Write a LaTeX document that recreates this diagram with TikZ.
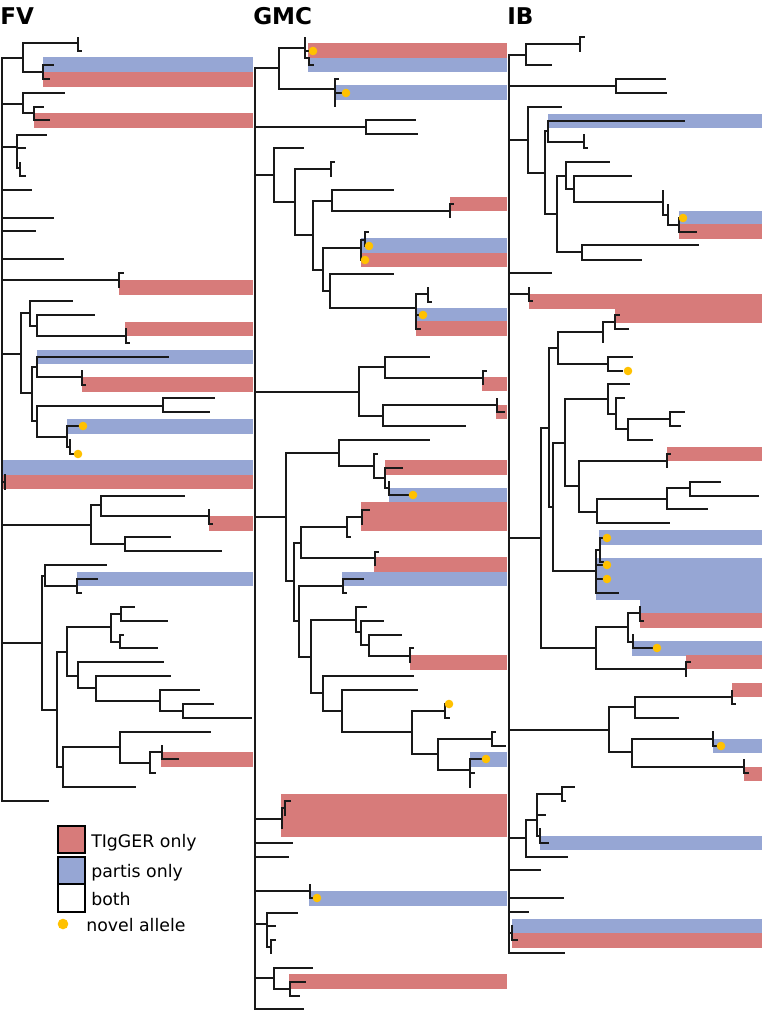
\documentclass[tikz,border=0pt]{standalone}
\usepackage{fontspec}
\setmainfont{DejaVu Sans}
\definecolor{bandr}{RGB}{215,123,122}
\definecolor{bandb}{RGB}{150,166,212}
\definecolor{novel}{RGB}{255,193,0}
\definecolor{treeline}{RGB}{25,25,25}
\tikzset{
  tl/.style={draw=treeline, line width=1.1pt, line cap=rect},
  ttl/.style={anchor=base west, inner sep=0pt, font=\fontsize{17.3}{20}\selectfont\bfseries},
  lgt/.style={anchor=base west, inner sep=0pt, font=\fontsize{13}{15}\selectfont},
  lgbox/.style={draw=black, line width=0.9pt}
}
\newcommand\HB[3]{\draw[tl] (#2,#1) -- (#3,#1);}
\newcommand\VB[3]{\draw[tl] (#1,#2) -- (#1,#3);}
\newcommand\RB[4]{\fill[bandr] (#1,#3) rectangle (#2,#4);}
\newcommand\BB[4]{\fill[bandb] (#1,#3) rectangle (#2,#4);}
\newcommand\DT[2]{\fill[novel] (#1,#2) circle[radius=4.3];}
\begin{document}
\begin{tikzpicture}[x=0.75pt, y=-0.75pt]
\useasboundingbox (0,0) rectangle (762,1018);
\fill[white] (0,0) rectangle (762,1018);
% ================= titles
\node[ttl] (tFV) at (0,24) {FV};
\node[ttl] (tGMC) at (253,24) {GMC};
\node[ttl] (tIB) at (507,24) {IB};
% ================= bands FV
\BB{43}{253}{57}{72}
\RB{43}{253}{72}{87}
\RB{34}{253}{113}{128}
\RB{119}{253}{280}{295}
\RB{125}{253}{322}{336}
\BB{37}{253}{350}{364}
\RB{82}{253}{377}{392}
\BB{67}{253}{419}{434}
\BB{2}{253}{460}{475}
\RB{2}{253}{475}{489}
\RB{209}{253}{516}{531}
\BB{77}{253}{572}{586}
\RB{161}{253}{752}{767}
% ================= bands GMC
\RB{308}{507}{43}{58}
\BB{308}{507}{58}{72}
\BB{335}{507}{85}{100}
\RB{450}{507}{197}{211}
\BB{361}{507}{238}{253}
\RB{361}{507}{253}{267}
\BB{416}{507}{308}{321}
\RB{416}{507}{321}{336}
\RB{482}{507}{377}{391}
\RB{496}{507}{405}{419}
\RB{385}{507}{460}{475}
\BB{389}{507}{488}{503}
\RB{361}{507}{502}{531}
\RB{374}{507}{557}{572}
\BB{342}{507}{572}{586}
\RB{410}{507}{655}{670}
\BB{470}{507}{752}{767}
\RB{281}{507}{794}{837}
\BB{309}{507}{891}{906}
\RB{289}{507}{974}{989}
% ================= bands IB
\BB{548}{762}{114}{128}
\BB{679}{762}{211}{224}
\RB{679}{762}{224}{239}
\RB{529}{762}{294}{309}
\RB{615}{762}{308}{323}
\RB{667}{762}{447}{461}
\BB{599}{762}{530}{545}
\BB{596}{762}{558}{600}
\BB{640}{762}{599}{613}
\RB{640}{762}{613}{628}
\BB{632}{762}{641}{656}
\RB{686}{762}{655}{669}
\RB{732}{762}{683}{697}
\BB{713}{762}{739}{753}
\RB{744}{762}{767}{781}
\BB{540}{762}{836}{850}
\BB{512}{762}{919}{933}
\RB{512}{762}{933}{948}
% ================= tree FV
\VB{2}{58}{801}
\HB{58}{2}{23} \VB{23}{43}{72}
\HB{43}{23}{78} \VB{78}{38}{51} \HB{51}{78}{81}
\HB{72}{23}{43} \VB{43}{65}{79} \HB{65}{43}{53} \HB{79}{43}{49}
\HB{104}{2}{23} \VB{23}{93}{113} \HB{93}{23}{64}
\HB{113}{23}{34} \VB{34}{107}{120} \HB{107}{34}{43} \HB{120}{34}{49}
\HB{147}{2}{17} \VB{17}{135}{168} \HB{135}{17}{46} \HB{148}{17}{25}
\HB{168}{17}{20} \VB{20}{163}{176} \HB{176}{20}{25}
\HB{190}{2}{31}
\HB{218}{2}{53}
\HB{231}{2}{35}
\HB{259}{2}{63}
\HB{280}{2}{119} \VB{119}{273}{287} \HB{273}{119}{123}
\HB{354}{2}{21} \VB{21}{313}{393}
\HB{313}{21}{30} \VB{30}{301}{326} \HB{301}{30}{72}
\HB{326}{30}{37} \VB{37}{315}{336} \HB{315}{37}{94}
\HB{336}{37}{126} \VB{126}{329}{343} \HB{343}{126}{129}
\HB{393}{21}{32} \VB{32}{367}{421}
\HB{367}{32}{37} \VB{37}{357}{377} \HB{357}{37}{168}
\HB{377}{37}{82} \VB{82}{371}{385} \HB{385}{82}{85}
\HB{421}{32}{37} \VB{37}{406}{437}
\HB{406}{37}{163} \VB{163}{398}{412} \HB{398}{163}{214} \HB{412}{163}{209}
\HB{437}{37}{67} \VB{67}{426}{447} \HB{426}{67}{83}
\HB{447}{67}{70} \VB{70}{440}{454} \HB{454}{70}{78}
\HB{482}{2}{5} \VB{5}{475}{489}
\HB{525}{2}{91} \VB{91}{505}{544}
\HB{505}{91}{101} \VB{101}{496}{516} \HB{496}{101}{184}
\HB{516}{101}{209} \VB{209}{510}{524} \HB{524}{209}{212}
\HB{544}{91}{125} \VB{125}{537}{551} \HB{537}{125}{170} \HB{551}{125}{221}
\HB{643}{2}{42} \VB{42}{576}{710}
\HB{576}{42}{45} \VB{45}{565}{586} \HB{565}{45}{106}
\HB{586}{45}{77} \VB{77}{579}{593} \HB{579}{77}{97} \HB{593}{77}{81}
\HB{710}{42}{57} \VB{57}{652}{767}
\HB{652}{57}{67} \VB{67}{627}{676}
\HB{627}{67}{111} \VB{111}{614}{642}
\HB{614}{111}{121} \VB{121}{607}{621} \HB{607}{121}{134} \HB{621}{121}{167}
\HB{642}{111}{120} \VB{120}{635}{648} \HB{635}{120}{123} \HB{648}{120}{157}
\HB{676}{67}{78} \VB{78}{662}{688} \HB{662}{78}{163}
\HB{688}{78}{96} \VB{96}{676}{701} \HB{676}{96}{170}
\HB{701}{96}{160} \VB{160}{690}{711} \HB{690}{160}{199}
\HB{711}{160}{183} \VB{183}{704}{718} \HB{704}{183}{213} \HB{718}{183}{251}
\HB{767}{57}{63} \VB{63}{747}{787}
\HB{747}{63}{120} \VB{120}{732}{763} \HB{732}{120}{210}
\HB{763}{120}{150} \VB{150}{752}{773}
\HB{752}{150}{162} \VB{162}{746}{759} \HB{759}{162}{178}
\HB{773}{150}{155}
\HB{787}{63}{135}
\HB{801}{2}{48}
% ================= tree GMC
\VB{255}{68}{1009}
\HB{68}{255}{279} \VB{279}{48}{89}
\HB{48}{279}{305} \VB{305}{38}{58} \HB{51}{305}{313}
\HB{58}{305}{309} \VB{309}{58}{65} \HB{65}{309}{313}
\HB{89}{279}{335} \VB{335}{79}{106} \HB{79}{335}{338} \HB{93}{335}{346}
\HB{127}{255}{366} \VB{366}{120}{134} \HB{120}{366}{415} \HB{134}{366}{417}
\HB{175}{255}{274} \VB{274}{148}{202}
\HB{148}{274}{303}
\HB{202}{274}{295} \VB{295}{169}{235}
\HB{169}{295}{331} \VB{331}{162}{176} \HB{162}{331}{334}
\HB{235}{295}{313} \VB{313}{201}{270}
\HB{201}{313}{332} \VB{332}{190}{211} \HB{190}{332}{393}
\HB{211}{332}{450} \VB{450}{204}{217} \HB{204}{450}{453}
\HB{270}{313}{323} \VB{323}{248}{291}
\HB{248}{323}{361} \VB{361}{240}{260} \HB{240}{361}{365}
\VB{365}{232}{246} \HB{232}{365}{368} \HB{246}{365}{369} \HB{260}{361}{365}
\HB{291}{323}{330} \VB{330}{274}{308}
\HB{274}{330}{393}
\HB{308}{330}{416} \VB{416}{294}{329}
\HB{294}{416}{428} \VB{428}{288}{302} \HB{302}{428}{431}
\HB{315}{416}{423} \HB{329}{416}{420}
\HB{392}{255}{359} \VB{359}{367}{416}
\HB{367}{359}{385} \VB{385}{357}{378} \HB{357}{385}{429}
\HB{378}{385}{483} \VB{483}{371}{384} \HB{371}{483}{486}
\HB{416}{359}{383} \VB{383}{405}{426}
\HB{405}{383}{497} \VB{497}{399}{412} \HB{412}{497}{504}
\HB{426}{383}{465}
\HB{517}{255}{286} \VB{286}{453}{581}
\HB{453}{286}{339} \VB{339}{440}{466} \HB{440}{339}{429}
\HB{466}{339}{374} \VB{374}{454}{478} \HB{454}{374}{377}
\HB{478}{374}{385} \VB{385}{468}{488} \HB{468}{385}{402}
\HB{488}{385}{389} \VB{389}{482}{495} \HB{495}{389}{413}
\HB{581}{286}{294} \VB{294}{543}{621}
\HB{543}{294}{301} \VB{301}{527}{558}
\HB{527}{301}{347} \VB{347}{517}{537}
\HB{517}{347}{362} \VB{362}{510}{524} \HB{510}{362}{369}
\HB{537}{347}{350}
\HB{558}{301}{375} \VB{375}{552}{565} \HB{552}{375}{378}
\HB{621}{294}{299} \VB{299}{586}{657}
\HB{586}{299}{343} \VB{343}{579}{593} \HB{579}{343}{363} \HB{593}{343}{346}
\HB{657}{299}{311} \VB{311}{620}{693}
\HB{620}{311}{356} \VB{356}{607}{632} \HB{607}{356}{366}
\HB{632}{356}{361} \VB{361}{621}{645} \HB{621}{361}{383}
\HB{645}{361}{369} \VB{369}{635}{656} \HB{635}{369}{401}
\HB{656}{369}{410} \VB{410}{648}{662} \HB{648}{410}{413}
\HB{693}{311}{323} \VB{323}{676}{711}
\HB{676}{323}{413}
\HB{711}{323}{342} \VB{342}{690}{732}
\HB{690}{342}{417}
\HB{732}{342}{412} \VB{412}{711}{754}
\HB{711}{412}{445} \VB{445}{704}{718} \HB{718}{445}{449}
\HB{754}{412}{438} \VB{438}{739}{770}
\HB{739}{438}{492} \VB{492}{732}{746} \HB{732}{492}{495} \HB{746}{492}{505}
\HB{770}{438}{470} \VB{470}{759}{787} \HB{759}{470}{482} \HB{773}{470}{474}
\HB{819}{255}{282} \VB{282}{808}{828}
\HB{808}{282}{285} \VB{285}{801}{815} \HB{801}{285}{290}
\HB{843}{255}{292}
\HB{857}{255}{288}
\HB{891}{255}{310} \VB{310}{885}{898} \HB{898}{310}{314}
\HB{924}{255}{267} \VB{267}{913}{947}
\HB{913}{267}{297} \HB{926}{267}{275}
\HB{947}{267}{271} \VB{271}{940}{953} \HB{940}{271}{275}
\HB{978}{255}{274} \VB{274}{968}{989}
\HB{968}{274}{312}
\HB{989}{274}{290} \VB{290}{982}{996} \HB{982}{290}{305} \HB{996}{290}{299}
\HB{1009}{255}{303}
% ================= tree IB
\VB{509}{55}{953}
\HB{55}{509}{526} \VB{526}{44}{65}
\HB{44}{526}{580} \VB{580}{37}{51} \HB{37}{580}{584}
\HB{65}{526}{551}
\HB{86}{509}{616} \VB{616}{79}{93} \HB{79}{616}{665} \HB{93}{616}{666}
\HB{140}{509}{528} \VB{528}{107}{173}
\HB{107}{528}{561}
\HB{173}{528}{545} \VB{545}{131}{214}
\HB{131}{545}{548} \VB{548}{121}{142} \HB{121}{548}{684}
\HB{142}{548}{584} \VB{584}{135}{148} \HB{148}{584}{587}
\HB{214}{545}{557} \VB{557}{176}{252}
\HB{176}{557}{566} \VB{566}{162}{189} \HB{162}{566}{609}
\HB{189}{566}{574} \VB{574}{176}{202} \HB{176}{574}{631}
\HB{202}{574}{663} \VB{663}{191}{215}
\HB{215}{663}{668} \VB{668}{205}{225}
\HB{225}{668}{679} \VB{679}{218}{232} \HB{232}{679}{696}
\HB{252}{557}{582} \VB{582}{245}{260} \HB{245}{582}{698} \HB{260}{582}{641}
\HB{273}{509}{551}
\HB{294}{509}{529} \VB{529}{288}{301} \HB{301}{529}{532}
\HB{538}{509}{541} \VB{541}{428}{648}
\HB{428}{541}{549} \VB{549}{348}{507}
\HB{348}{549}{558} \VB{558}{332}{364}
\HB{332}{558}{603} \VB{603}{322}{342}
\HB{322}{603}{615} \VB{615}{315}{329} \HB{315}{615}{619} \HB{329}{615}{628}
\HB{364}{558}{608} \VB{608}{357}{371} \HB{357}{608}{632} \HB{371}{608}{622}
\HB{507}{549}{553} \VB{553}{443}{571}
\HB{443}{553}{565} \VB{565}{399}{486}
\HB{399}{565}{608} \VB{608}{384}{414} \HB{384}{608}{629}
\HB{414}{608}{616} \VB{616}{398}{429} \HB{398}{616}{624}
\HB{429}{616}{628} \VB{628}{419}{440}
\HB{419}{628}{670} \VB{670}{412}{426} \HB{412}{670}{684} \HB{426}{670}{680}
\HB{440}{628}{652}
\HB{486}{565}{579} \VB{579}{461}{512}
\HB{461}{579}{667} \VB{667}{454}{467} \HB{454}{667}{670}
\HB{512}{579}{597} \VB{597}{499}{523}
\HB{499}{597}{667} \VB{667}{488}{509}
\HB{488}{667}{690} \VB{690}{482}{496} \HB{482}{690}{720} \HB{496}{690}{758}
\HB{509}{667}{707}
\HB{523}{597}{669}
\HB{571}{553}{596} \VB{596}{550}{593}
\HB{550}{596}{600} \VB{600}{538}{562} \HB{538}{600}{603} \HB{562}{600}{603}
\HB{565}{596}{603} \HB{579}{596}{603}
\HB{593}{596}{618}
\HB{648}{541}{596} \VB{596}{627}{669}
\HB{627}{596}{628} \VB{628}{613}{642}
\HB{613}{628}{640} \VB{640}{607}{621} \HB{621}{640}{643}
\HB{642}{628}{633} \VB{633}{635}{648} \HB{648}{633}{652}
\HB{669}{596}{686} \VB{686}{662}{676} \HB{662}{686}{690}
\HB{730}{509}{609} \VB{609}{707}{752}
\HB{707}{609}{635} \VB{635}{697}{718}
\HB{697}{635}{732} \VB{732}{691}{704} \HB{704}{732}{735}
\HB{718}{635}{678}
\HB{752}{609}{632} \VB{632}{739}{767}
\HB{739}{632}{713} \VB{713}{732}{746} \HB{746}{713}{716}
\HB{767}{632}{744} \VB{744}{760}{773} \HB{773}{744}{748}
\HB{838}{509}{526} \VB{526}{820}{857}
\HB{820}{526}{537} \VB{537}{794}{836}
\HB{794}{537}{562} \VB{562}{787}{801} \HB{787}{562}{574} \HB{801}{562}{565}
\HB{815}{537}{545}
\HB{836}{537}{540} \VB{540}{829}{843} \HB{843}{540}{548}
\HB{857}{526}{567}
\HB{870}{509}{540}
\HB{898}{509}{563}
\HB{912}{509}{528}
\HB{933}{509}{512} \VB{512}{926}{940} \HB{940}{512}{517}
\HB{953}{509}{564}
% ================= novel allele dots
\DT{83}{426} \DT{78}{454}
\DT{313}{51} \DT{346}{93} \DT{369}{246} \DT{365}{260} \DT{423}{315}
\DT{413}{495} \DT{449}{704} \DT{486}{759} \DT{317}{898}
\DT{683}{218} \DT{628}{371} \DT{607}{538} \DT{607}{565} \DT{607}{579}
\DT{657}{648} \DT{721}{746}
% ================= legend
\fill[bandr] (58,826) rectangle (85,853); \draw[lgbox] (58,826) rectangle (85,853);
\fill[bandb] (58,857) rectangle (85,884); \draw[lgbox] (58,857) rectangle (85,884);
\draw[lgbox] (58,884) rectangle (85,912);
\fill[novel] (63,924) circle[radius=5.3];
\node[lgt] (lgT) at (91,847) {TIgGER only};
\node[lgt] (lgP) at (91,877) {partis only};
\node[lgt] (lgB) at (91,905) {both};
\node[lgt] (lgN) at (86,931) {novel allele};
\end{tikzpicture}
\end{document}
